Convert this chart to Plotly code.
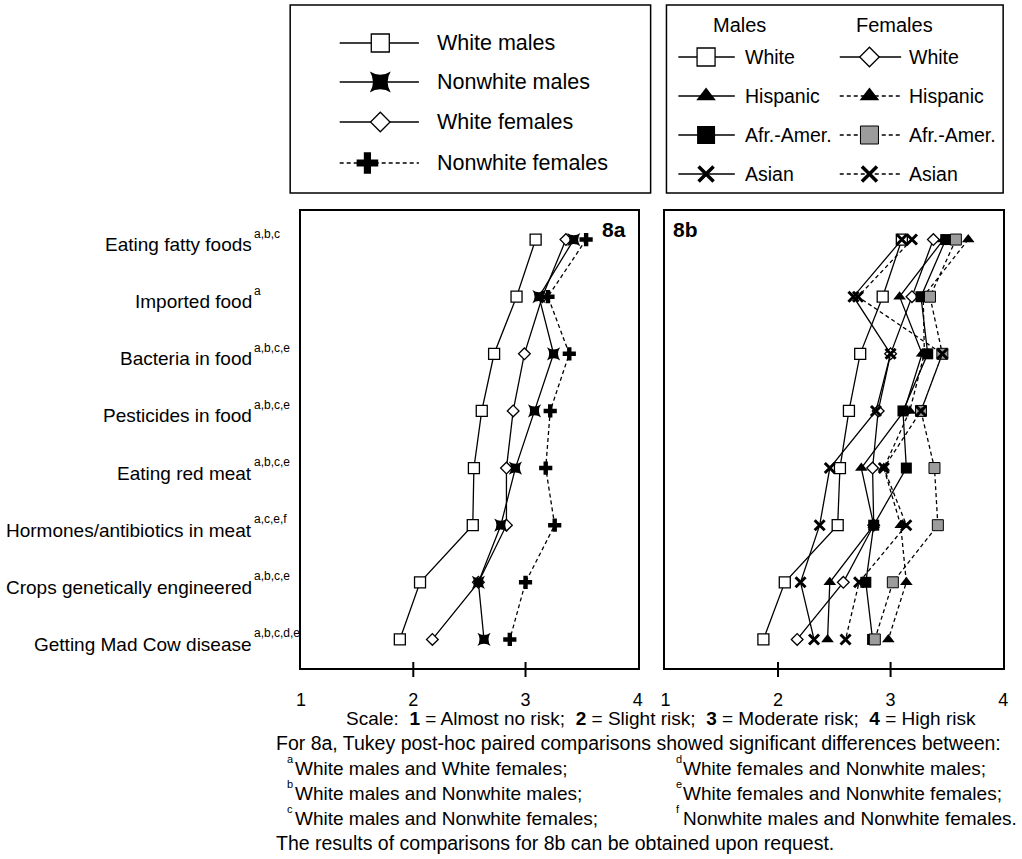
import plotly.graph_objects as go

W, H = 1022, 859

categories = [
    "Eating fatty foods", "Imported food", "Bacteria in food", "Pesticides in food",
    "Eating red meat", "Hormones/antibiotics in meat", "Crops genetically engineered",
    "Getting Mad Cow disease",
]
significance = ["a,b,c", "a", "a,b,c,e", "a,b,c,e", "a,b,c,e", "a,c,e,f", "a,b,c,e", "a,b,c,d,e"]
scale_ticks = [1, 2, 3, 4]

# Panel 8a: mean perceived risk by race and gender
white_males = [3.09, 2.92, 2.72, 2.61, 2.54, 2.53, 2.06, 1.88]
nonwhite_males = [3.43, 3.12, 3.25, 3.08, 2.91, 2.78, 2.58, 2.63]
white_females = [3.36, 3.15, 2.99, 2.89, 2.83, 2.83, 2.58, 2.17]
nonwhite_females = [3.54, 3.20, 3.39, 3.22, 3.18, 3.26, 3.00, 2.86]

# Panel 8b: mean perceived risk by ethnic group and gender
male_white = [3.10, 2.93, 2.73, 2.63, 2.55, 2.53, 2.06, 1.87]
male_hispanic = [3.47, 3.08, 3.28, 3.12, 2.74, 2.85, 2.46, 2.44]
male_afram = [3.49, 3.27, 3.33, 3.11, 3.14, 2.85, 2.78, 2.84]
male_asian = [3.10, 2.67, 3.00, 2.87, 2.46, 2.37, 2.20, 2.32]
female_white = [3.38, 3.19, 3.00, 2.89, 2.84, 2.85, 2.58, 2.17]
female_hispanic = [3.69, 3.29, 3.30, 3.17, 2.94, 3.09, 3.14, 2.98]
female_afram = [3.58, 3.35, 3.46, 3.27, 3.39, 3.42, 3.02, 2.86]
female_asian = [3.19, 2.71, 3.46, 3.27, 2.94, 3.14, 2.72, 2.60]

FONT = "Liberation Sans, Arial, sans-serif"
BLACK = "black"
GRAY = "#9c9c9c"
DASH = "4px,3px"
LW = 1.3

fig = go.Figure()


def series(x, xa, ya, symbol, fill, size, dash="solid", outline=0, mlw=None):
    marker = dict(symbol=symbol, size=size, color=fill,
                  line=dict(color=BLACK, width=outline if mlw is None else mlw))
    fig.add_trace(go.Scatter(
        x=x, y=categories, xaxis=xa, yaxis=ya, mode="lines+markers",
        line=dict(color=BLACK, width=LW, dash=dash), marker=marker,
        showlegend=False, cliponaxis=False, hoverinfo="x+y"))


# 8a
series(white_males, "x", "y", "square", "white", 11, outline=1.3)
series(white_females, "x", "y", "diamond", "white", 9, outline=1.3)
series(nonwhite_males, "x", "y", "star-square", BLACK, 12)
series(nonwhite_females, "x", "y", "cross", BLACK, 11, dash=DASH)

# 8b
series(male_white, "x2", "y2", "square", "white", 11, outline=1.3)
series(female_white, "x2", "y2", "diamond", "white", 9, outline=1.3)
series(male_hispanic, "x2", "y2", "triangle-up", BLACK, 11)
series(male_afram, "x2", "y2", "square", BLACK, 11)
series(female_hispanic, "x2", "y2", "triangle-up", BLACK, 11, dash=DASH)
series(female_afram, "x2", "y2", "square", GRAY, 11, dash=DASH, outline=1)
series(male_asian, "x2", "y2", "x-thin", BLACK, 10, mlw=3)
series(female_asian, "x2", "y2", "x-thin", BLACK, 10, dash=DASH, mlw=3)


# Legend samples, drawn in pixel space on an overlay axis
def sample(x0, x1, y, mx, symbol, fill, size, dash="solid", outline=0, mlw=None):
    fig.add_trace(go.Scatter(
        x=[x0, x1], y=[y, y], xaxis="x3", yaxis="y3", mode="lines",
        line=dict(color=BLACK, width=LW, dash=dash), showlegend=False,
        hoverinfo="skip", cliponaxis=False))
    fig.add_trace(go.Scatter(
        x=[mx], y=[y], xaxis="x3", yaxis="y3", mode="markers",
        marker=dict(symbol=symbol, size=size, color=fill,
                    line=dict(color=BLACK, width=outline if mlw is None else mlw)),
        showlegend=False, hoverinfo="skip", cliponaxis=False))


ann = []


def text(x, y, s, size, xanchor="left", font=FONT, xref="x3", yref="y3", yshift=0, pad=1):
    ann.append(dict(x=x, y=y, xref=xref, yref=yref, text=s, showarrow=False,
                    xanchor=xanchor, yanchor="middle", yshift=yshift, borderpad=pad,
                    font=dict(family=font, size=size, color=BLACK)))


# Legend box for 8a
leg1_rows = [43, 82, 122, 163]
sample(338, 418, leg1_rows[0], 379, "square", "white", 18, outline=1.3)
sample(338, 418, leg1_rows[1], 379, "star-square", BLACK, 19)
sample(338, 418, leg1_rows[2], 379, "diamond", "white", 15, outline=1.3)
sample(338, 418, leg1_rows[3], 366, "cross", BLACK, 18, dash=DASH)
for y, s in zip(leg1_rows, ["White males", "Nonwhite males", "White females", "Nonwhite females"]):
    text(434, y, s, 21.5)

# Legend box for 8b
leg2_rows = [57, 96, 135, 174]
text(742, 25, "Males", 20, xanchor="center")
text(898, 25, "Females", 20, xanchor="center")
sample(680, 737, leg2_rows[0], 708, "square", "white", 18, outline=1.3)
sample(680, 737, leg2_rows[1], 708, "triangle-up", BLACK, 17)
sample(680, 737, leg2_rows[2], 708, "square", BLACK, 18)
sample(680, 737, leg2_rows[3], 708, "x-thin", BLACK, 15, mlw=3.5)
sample(843, 905, leg2_rows[0], 873, "diamond", "white", 15, outline=1.3)
sample(843, 905, leg2_rows[1], 873, "triangle-up", BLACK, 17, dash=DASH)
sample(843, 905, leg2_rows[2], 873, "square", GRAY, 18, dash=DASH, outline=1)
sample(843, 905, leg2_rows[3], 873, "x-thin", BLACK, 15, dash=DASH, mlw=3.5)
for y, s in zip(leg2_rows, ["White", "Hispanic", "Afr.-Amer.", "Asian"]):
    text(745, y, s, 19.5)
    text(911, y, s, 19.5)

# Category labels with significance superscripts
for cat, sig in zip(categories, significance):
    text(250, cat, cat, 19, xanchor="right", yref="y", yshift=-5, pad=0)
    text(250, cat, sig, 12, xanchor="left", yref="y", yshift=6, pad=0)

# Panel tags
ann.append(dict(x=629, y=229, xref="x3", yref="y3", text="<b>8a</b>", showarrow=False,
                xanchor="right", yanchor="middle", font=dict(family=FONT, size=21, color=BLACK)))
ann.append(dict(x=673, y=229, xref="x3", yref="y3", text="<b>8b</b>", showarrow=False,
                xanchor="left", yanchor="middle", font=dict(family=FONT, size=21, color=BLACK)))

# Notes below the panels
sp = "\u00a0"
text(662, 718, f"Scale:{sp}{sp}<b>1</b> = Almost no risk;{sp}{sp}<b>2</b> = Slight risk;{sp}{sp}"
     f"<b>3</b> = Moderate risk;{sp}{sp}<b>4</b> = High risk", 19, xanchor="center")
text(272, 743, "For 8a, Tukey post-hoc paired comparisons showed significant differences between:",
     19.5)
notes_left = [("a", "White males and White females;"), ("b", "White males and Nonwhite males;"),
              ("c", "White males and Nonwhite females;")]
notes_right = [("d", "White females and Nonwhite males;"), ("e", "White females and Nonwhite females;"),
               ("f", "Nonwhite males and Nonwhite females.")]
for i, ((la, lt), (ra, rt)) in enumerate(zip(notes_left, notes_right)):
    y = 768 + 25 * i
    text(283, y - 9, la, 11)
    text(291, y, lt, 19)
    text(676, y - 9, ra, 11)
    text(683, y, rt, 19)
text(272, 843, "The results of comparisons for 8b can be obtained upon request.", 19.5)

# Boxes and tick marks
shapes = [
    dict(type="rect", xref="x3", yref="y3", x0=288, x1=652, y0=5, y1=193,
         line=dict(color=BLACK, width=1.5)),
    dict(type="rect", xref="x3", yref="y3", x0=668, x1=1008, y0=5, y1=193,
         line=dict(color=BLACK, width=1.5)),
]
for xr in ["x", "x2"]:
    for v in [2, 3]:
        shapes.append(dict(type="line", xref=xr, yref="y3", x0=v, x1=v, y0=662, y1=677,
                           line=dict(color=BLACK, width=2)))

axis_common = dict(showline=True, mirror=True, linecolor=BLACK, linewidth=2,
                   showgrid=False, zeroline=False, fixedrange=True)
xcommon = dict(range=[1, 4], tickvals=scale_ticks, ticktext=[str(t) for t in scale_ticks],
               ticks="", tickfont=dict(family=FONT, size=18, color=BLACK), ticklabelstandoff=14,
               **axis_common)
ycommon = dict(type="category", categoryarray=categories, range=[7.5, -0.5],
               showticklabels=False, ticks="", **axis_common)

ydom = [1 - 668 / H, 1 - 211 / H]
fig.update_layout(
    width=W, height=H, margin=dict(l=0, r=0, t=0, b=0),
    paper_bgcolor="white", plot_bgcolor="rgba(0,0,0,0)",
    xaxis=dict(domain=[299 / W, 639 / W], anchor="y", **xcommon),
    yaxis=dict(domain=ydom, anchor="x", **ycommon),
    xaxis2=dict(domain=[667 / W, 1008 / W], anchor="y2", **xcommon),
    yaxis2=dict(domain=ydom, anchor="x2", **ycommon),
    xaxis3=dict(domain=[0, 1], range=[0, W], visible=False, anchor="y3", fixedrange=True),
    yaxis3=dict(domain=[0, 1], range=[H, 0], visible=False, anchor="x3", fixedrange=True),
    annotations=ann, shapes=shapes, showlegend=False,
)

fig.write_html("out.html")
